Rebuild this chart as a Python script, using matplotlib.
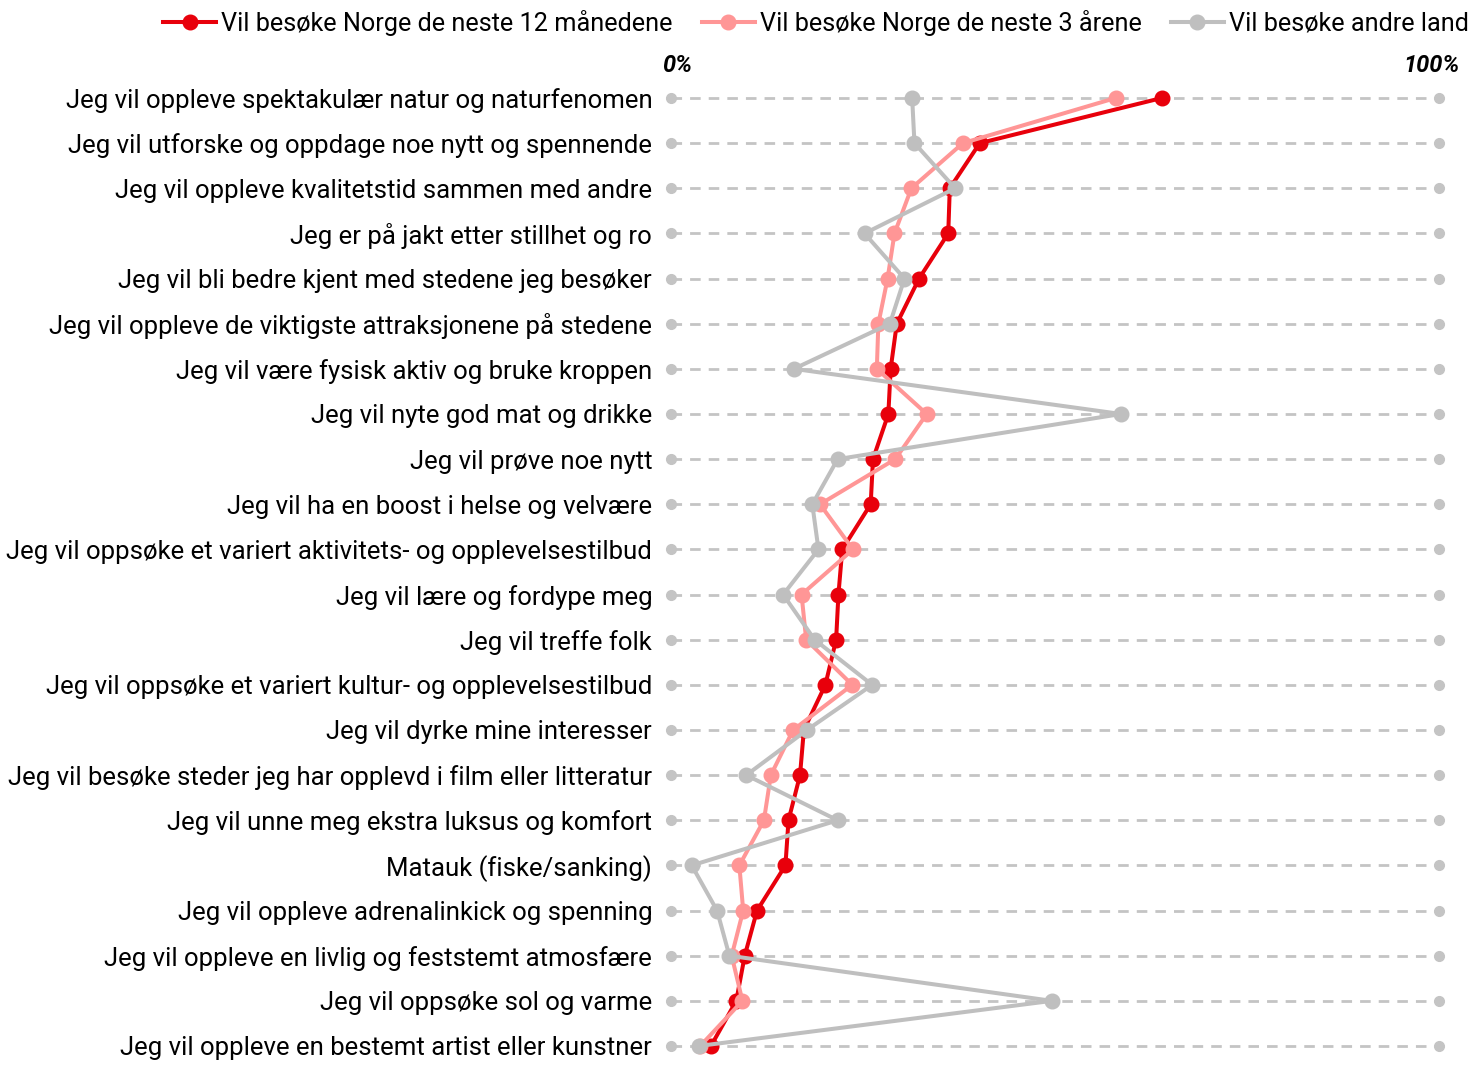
import matplotlib
matplotlib.use("Agg")
import matplotlib.pyplot as plt
from matplotlib.lines import Line2D

plt.rcParams['font.family'] = ['Roboto', 'DejaVu Sans']

categories = [
    "Jeg vil oppleve spektakulær natur og naturfenomen",
    "Jeg vil utforske og oppdage noe nytt og spennende",
    "Jeg vil oppleve kvalitetstid sammen med andre",
    "Jeg er på jakt etter stillhet og ro",
    "Jeg vil bli bedre kjent med stedene jeg besøker",
    "Jeg vil oppleve de viktigste attraksjonene på stedene",
    "Jeg vil være fysisk aktiv og bruke kroppen",
    "Jeg vil nyte god mat og drikke",
    "Jeg vil prøve noe nytt",
    "Jeg vil ha en boost i helse og velvære",
    "Jeg vil oppsøke et variert aktivitets- og opplevelsestilbud",
    "Jeg vil lære og fordype meg",
    "Jeg vil treffe folk",
    "Jeg vil oppsøke et variert kultur- og opplevelsestilbud",
    "Jeg vil dyrke mine interesser",
    "Jeg vil besøke steder jeg har opplevd i film eller litteratur",
    "Jeg vil unne meg ekstra luksus og komfort",
    "Matauk (fiske/sanking)",
    "Jeg vil oppleve adrenalinkick og spenning",
    "Jeg vil oppleve en livlig og feststemt atmosfære",
    "Jeg vil oppsøke sol og varme",
    "Jeg vil oppleve en bestemt artist eller kunstner",
]

norge_12m = [63.9, 40.2, 36.3, 36.1, 32.3, 29.4, 28.6, 28.3, 26.3, 26.0, 22.3,
             21.8, 21.5, 20.1, 17.3, 16.8, 15.3, 14.9, 11.2, 9.6, 8.5, 5.2]
norge_3y = [57.9, 38.0, 31.3, 29.1, 28.2, 27.0, 26.8, 33.3, 29.2, 19.4, 23.7,
            17.0, 17.6, 23.6, 15.9, 13.0, 12.1, 8.9, 9.4, 7.9, 9.3, 3.8]
andre_land = [31.4, 31.7, 37.0, 25.2, 30.4, 28.5, 16.0, 58.6, 21.7, 18.4, 19.2,
              14.6, 18.7, 26.2, 17.7, 9.8, 21.7, 2.7, 6.0, 7.6, 49.6, 3.6]

series_names = ["Vil besøke Norge de neste 12 månedene",
                "Vil besøke Norge de neste 3 årene",
                "Vil besøke andre land"]
colors = ["#e8000b", "#ff9696", "#bfbfbf"]

W, H = 1471, 1065
fig = plt.figure(figsize=(W / 100, H / 100), dpi=100)
top_px, bot_px = 98, 1046
left_px, right_px = 671, 1439
ax = fig.add_axes([left_px / W, 1 - bot_px / H, (right_px - left_px) / W, (bot_px - top_px) / H])

n = len(categories)
ys = list(range(n))

# dashed guide lines with end dots
for y in ys:
    ax.plot([0, 100], [y, y], color="#c4c4c4", lw=2.0, ls=(0, (3.8, 2.9)), zorder=1, clip_on=False)
    ax.plot([0, 100], [y, y], ls="none", marker="o", ms=7, color="#c4c4c4", zorder=1, clip_on=False)

for vals, c, z in zip([norge_12m, norge_3y, andre_land], colors, [3, 4, 5]):
    ax.plot(vals, ys, color=c, lw=2.9, marker="o", ms=10.5, zorder=z, clip_on=False)

ax.set_xlim(0, 100)
ax.set_ylim(n - 1, 0)
ax.set_yticks(ys)
ax.set_yticklabels(categories, fontsize=18.5)
ax.tick_params(axis="y", length=0, pad=13.5)
ax.set_xticks([])
for s in ax.spines.values():
    s.set_visible(False)

ax.text(0.8, -0.73, "0%", ha="center", va="center", fontsize=17, fontweight="bold", style="italic")
ax.text(99, -0.73, "100%", ha="center", va="center", fontsize=17, fontweight="bold", style="italic")

handles = [Line2D([], [], color=c, lw=2.9, marker="o", ms=10.5) for c in colors]
fig.legend(handles, series_names, loc="upper right", bbox_to_anchor=(1.008, 1.004), ncol=3,
           frameon=False, fontsize=18.2, handlelength=2.1, handletextpad=0.2,
           columnspacing=1.15, borderaxespad=0.15)

fig.savefig("out.png", dpi=100)
